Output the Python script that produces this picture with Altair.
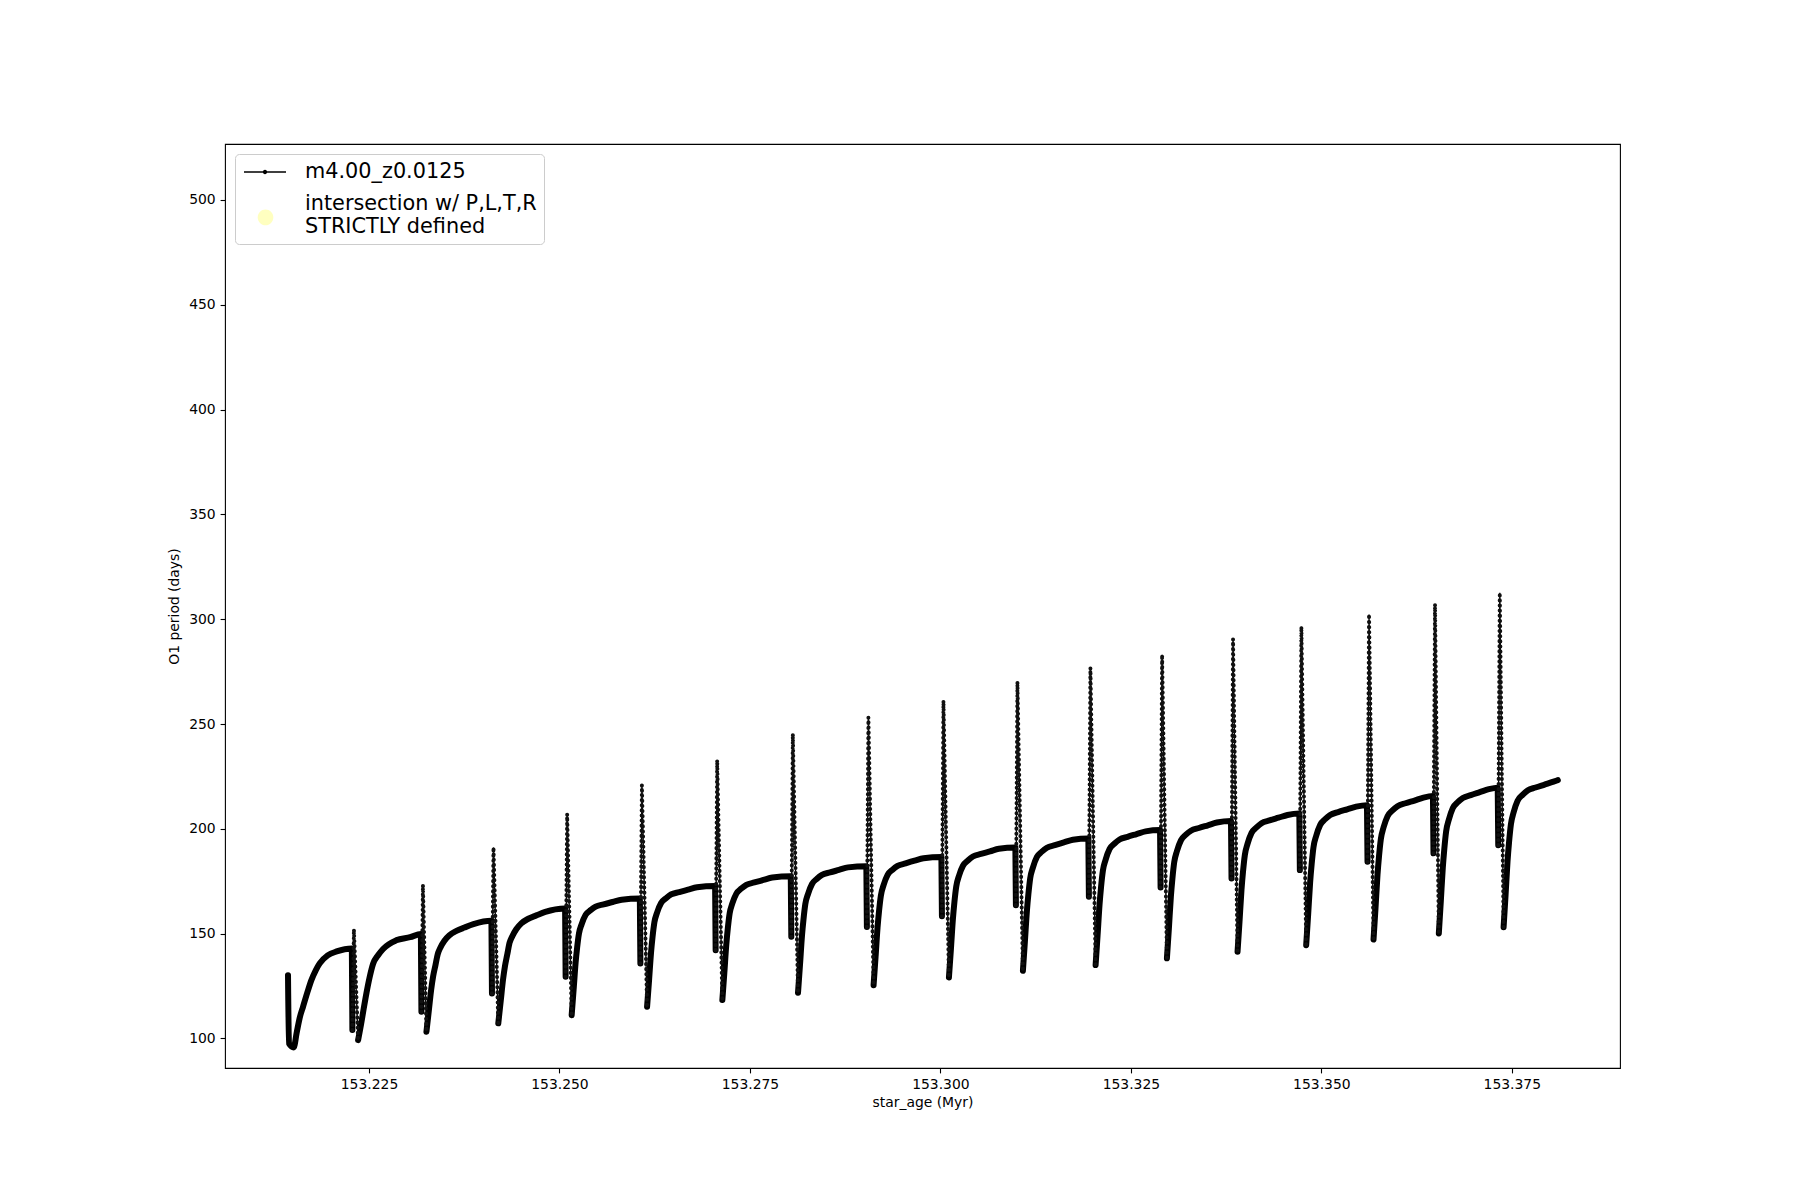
import altair as alt
import pandas as pd

# ---- data ----
spike_age = [153.22282, 153.23188, 153.24114, 153.25081, 153.26062, 153.27050, 153.28043,
             153.29035, 153.30020, 153.30991, 153.31949, 153.32890, 153.33821, 153.34718,
             153.35606, 153.36472, 153.37322]
drop_val = [104.0, 112.7, 121.5, 129.4, 135.8, 142.1, 148.5, 153.2, 158.3, 163.6, 167.6,
            172.0, 176.3, 180.3, 184.3, 188.3, 192.2]
top_age = [153.22302, 153.23208, 153.24134, 153.25101, 153.26082, 153.27070, 153.28063,
           153.29055, 153.30040, 153.31011, 153.31969, 153.32910, 153.33841, 153.34738,
           153.35626, 153.36492, 153.37342]
top_val = [152.0, 173.1, 191.1, 207.0, 220.8, 232.8, 245.2, 253.1, 261.1, 270.1, 276.8,
           283.0, 290.5, 296.4, 302.3, 307.1, 312.6]

rec_age = [
    [153.21437, 153.21450, 153.21512, 153.21551, 153.21591, 153.21634, 153.21689, 153.21744, 153.21801, 153.21853, 153.21958, 153.22076, 153.22275],
    [153.22357, 153.22396, 153.22429, 153.22466, 153.22508, 153.22554, 153.22619, 153.22685, 153.22856, 153.23039, 153.23181],
    [153.23254, 153.23287, 153.23316, 153.23342, 153.23372, 153.23402, 153.23438, 153.23490, 153.23556, 153.23648, 153.23753, 153.23871, 153.24107],
    [153.24197, 153.24230, 153.24259, 153.24285, 153.24315, 153.24345, 153.24381, 153.24433, 153.24499, 153.24591, 153.24696, 153.24814, 153.25074],
    [153.25160, 153.25186, 153.25212, 153.25232, 153.25256, 153.25291, 153.25344, 153.25409, 153.25475, 153.25580, 153.25698, 153.25816, 153.26055],
    [153.26150, 153.26176, 153.26202, 153.26222, 153.26246, 153.26281, 153.26334, 153.26399, 153.26465, 153.26570, 153.26688, 153.26806, 153.27043],
    [153.27138, 153.27164, 153.27190, 153.27210, 153.27234, 153.27269, 153.27322, 153.27387, 153.27453, 153.27558, 153.27676, 153.27794, 153.28036],
    [153.28131, 153.28157, 153.28183, 153.28203, 153.28227, 153.28262, 153.28315, 153.28380, 153.28446, 153.28551, 153.28669, 153.28787, 153.29028],
    [153.29123, 153.29149, 153.29175, 153.29195, 153.29219, 153.29254, 153.29307, 153.29372, 153.29438, 153.29543, 153.29661, 153.29779, 153.30013],
    [153.30112, 153.30138, 153.30164, 153.30184, 153.30208, 153.30243, 153.30296, 153.30361, 153.30427, 153.30532, 153.30650, 153.30768, 153.30984],
    [153.31083, 153.31109, 153.31135, 153.31155, 153.31179, 153.31214, 153.31267, 153.31332, 153.31398, 153.31503, 153.31621, 153.31739, 153.31942],
    [153.32037, 153.32063, 153.32089, 153.32109, 153.32133, 153.32168, 153.32221, 153.32286, 153.32352, 153.32457, 153.32575, 153.32693, 153.32883],
    [153.32973, 153.32999, 153.33025, 153.33045, 153.33069, 153.33104, 153.33157, 153.33222, 153.33288, 153.33393, 153.33511, 153.33629, 153.33814],
    [153.33900, 153.33926, 153.33952, 153.33972, 153.33996, 153.34031, 153.34084, 153.34149, 153.34215, 153.34320, 153.34438, 153.34556, 153.34711],
    [153.34801, 153.34827, 153.34853, 153.34873, 153.34897, 153.34932, 153.34985, 153.35050, 153.35116, 153.35221, 153.35339, 153.35457, 153.35599],
    [153.35685, 153.35711, 153.35737, 153.35757, 153.35781, 153.35816, 153.35869, 153.35934, 153.36000, 153.36105, 153.36223, 153.36341, 153.36465],
    [153.36542, 153.36568, 153.36594, 153.36614, 153.36638, 153.36673, 153.36726, 153.36791, 153.36857, 153.36962, 153.37080, 153.37198, 153.37315],
    [153.37392, 153.37418, 153.37444, 153.37464, 153.37488, 153.37523, 153.37576, 153.37641, 153.37707, 153.37812, 153.37930, 153.38048, 153.38104],
]
rec_val = [
    [130.2, 97.6, 95.7, 102.8, 109.9, 115.1, 121.7, 127.8, 132.5, 135.8, 139.6, 141.5, 142.9],
    [99.2, 106.8, 113.9, 121.5, 129.1, 135.6, 139.7, 142.7, 146.8, 148.3, 149.8],
    [103.2, 113.8, 123.3, 129.7, 134.9, 140.2, 143.4, 146.6, 149.2, 151.3, 152.9, 154.5, 156.1],
    [107.2, 118.2, 128.0, 134.6, 140.1, 145.6, 148.8, 152.1, 154.9, 157.1, 158.7, 160.4, 162.0],
    [111.1, 123.4, 136.2, 143.4, 150.1, 154.5, 159.0, 161.2, 162.9, 164.0, 165.1, 166.2, 166.8],
    [115.1, 127.8, 141.0, 148.5, 155.4, 160.0, 164.6, 166.9, 168.7, 169.8, 171.0, 172.1, 172.7],
    [118.3, 131.3, 144.9, 152.6, 159.7, 164.4, 169.1, 171.5, 173.3, 174.4, 175.6, 176.8, 177.4],
    [121.8, 135.1, 149.0, 156.8, 164.1, 168.9, 173.7, 176.2, 178.0, 179.2, 180.4, 181.6, 182.2],
    [125.4, 138.9, 152.9, 160.9, 168.2, 173.1, 178.0, 180.5, 182.3, 183.5, 184.8, 186.0, 186.6],
    [129.1, 142.7, 157.0, 165.1, 172.5, 177.5, 182.4, 184.9, 186.8, 188.0, 189.2, 190.5, 191.1],
    [132.3, 146.2, 160.7, 168.9, 176.5, 181.5, 186.6, 189.1, 191.0, 192.2, 193.5, 194.8, 195.4],
    [135.0, 149.2, 164.0, 172.4, 180.1, 185.2, 190.4, 193.0, 194.9, 196.2, 197.5, 198.8, 199.4],
    [138.2, 152.6, 167.7, 176.2, 184.1, 189.3, 194.5, 197.2, 199.1, 200.4, 201.7, 203.0, 203.7],
    [141.3, 155.8, 171.0, 179.6, 187.5, 192.8, 198.1, 200.7, 202.7, 204.0, 205.3, 206.6, 207.3],
    [144.5, 159.2, 174.6, 183.2, 191.3, 196.6, 201.9, 204.6, 206.6, 208.0, 209.3, 210.6, 211.3],
    [147.2, 162.2, 178.0, 186.9, 195.1, 200.6, 206.0, 208.8, 210.8, 212.2, 213.5, 214.9, 215.6],
    [150.1, 165.4, 181.4, 190.4, 198.8, 204.3, 209.9, 212.7, 214.7, 216.1, 217.5, 218.9, 219.6],
    [153.0, 168.4, 184.6, 193.7, 202.1, 207.8, 213.4, 216.2, 218.3, 219.7, 221.1, 222.5, 223.2],
]

x_ticks = [153.225, 153.250, 153.275, 153.300, 153.325, 153.350, 153.375]
y_ticks = [100, 150, 200, 250, 300, 350, 400, 450, 500]

series_names = ["m4.00_z0.0125", "intersection w/ P,L,T,R\nSTRICTLY defined"]
series_colors = ["black", "#ffffc0"]

# ---- build table ----
rows = []
for k in range(len(rec_age)):
    seg = f"d{k}"
    for a, v in zip(rec_age[k], rec_val[k]):
        rows.append({"age": a, "period": v, "seg": seg, "kind": "dense"})
    if k < len(spike_age):
        rows.append({"age": spike_age[k], "period": drop_val[k], "seg": seg, "kind": "dense"})
for k in range(len(spike_age)):
    seg = f"s{k}"
    pts = [(spike_age[k], drop_val[k]), (top_age[k], top_val[k]), (rec_age[k + 1][0], rec_val[k + 1][0])]
    for a, v in pts:
        rows.append({"age": a, "period": v, "seg": seg, "kind": "sparse"})
df = pd.DataFrame(rows)

FONT = "DejaVu Sans"

x_enc = alt.X("age:Q",
              scale=alt.Scale(domain=[153.2061, 153.3892], nice=False, zero=False),
              axis=alt.Axis(values=x_ticks, format=".3f", title="star_age (Myr)"))
y_enc = alt.Y("period:Q",
              scale=alt.Scale(domain=[85.9, 526.7], nice=False, zero=False),
              axis=alt.Axis(values=y_ticks, format="d", title="O1 period (days)"))

base = alt.Chart(df)

dense = base.transform_filter(alt.datum.kind == "dense").mark_line(
    color="black", strokeWidth=6, strokeCap="round", strokeJoin="round",
    interpolate="monotone"
).encode(x=x_enc, y=y_enc, detail="seg:N")

sparse_line = base.transform_filter(alt.datum.kind == "sparse").mark_line(
    color="black", strokeWidth=1.3
).encode(x=x_enc, y=y_enc, detail="seg:N")

sparse_dots = base.transform_filter(alt.datum.kind == "sparse").mark_line(
    color="#111111", strokeWidth=4, strokeDash=[0.1, 5], strokeCap="round"
).encode(x=x_enc, y=y_enc, detail="seg:N")

# legend symbols (unit = 10 px, symbol column 20 px wide)
line_symbol = ("M-0.9,-0.075L3.3,-0.075L3.3,0.075L-0.9,0.075Z "
               "M1.42,0A0.22,0.22 0 1 1 0.98,0A0.22,0.22 0 1 1 1.42,0Z")
circle_symbol = "M2.03,1.34A0.78,0.78 0 1 1 0.47,1.34A0.78,0.78 0 1 1 2.03,1.34Z"

legend_cfg = dict(title=None, orient="top-left", offset=10, padding=7,
                  fillColor="white", strokeColor="#cccccc", cornerRadius=4,
                  labelFontSize=20.8, labelFont=FONT, labelColor="black",
                  labelLimit=600, labelOffset=41, rowPadding=11,
                  symbolOpacity=1, symbolSize=400,
                  labelExpr="split(datum.label, '\\n')")

legend_df = pd.DataFrame({"series": series_names})
legend_layer = alt.Chart(legend_df).mark_point(filled=True, opacity=0, size=400).encode(
    color=alt.Color("series:N",
                    scale=alt.Scale(domain=series_names, range=series_colors),
                    legend=alt.Legend(**legend_cfg)),
    shape=alt.Shape("series:N",
                    scale=alt.Scale(domain=series_names, range=[line_symbol, circle_symbol]),
                    legend=alt.Legend(**legend_cfg)),
)

chart = alt.layer(dense, sparse_line, sparse_dots, legend_layer).properties(
    width=1395, height=924,
    autosize=alt.AutoSizeParams(type="none"),
    padding={"left": 217, "top": 136, "right": 172, "bottom": 124},
).configure_view(
    stroke="black", strokeWidth=1.1
).configure_axis(
    domain=False, grid=False, tickColor="black", tickSize=4.9, tickWidth=1.1,
    labelFont=FONT, labelFontSize=13.9, labelColor="black", labelPadding=4.9,
    titleFont=FONT, titleFontSize=13.9, titleFontWeight="normal", titleColor="black",
).configure_axisX(titlePadding=4).configure_axisY(titlePadding=7)

chart.save("out.html", embed_options={"renderer": "svg", "actions": False})
